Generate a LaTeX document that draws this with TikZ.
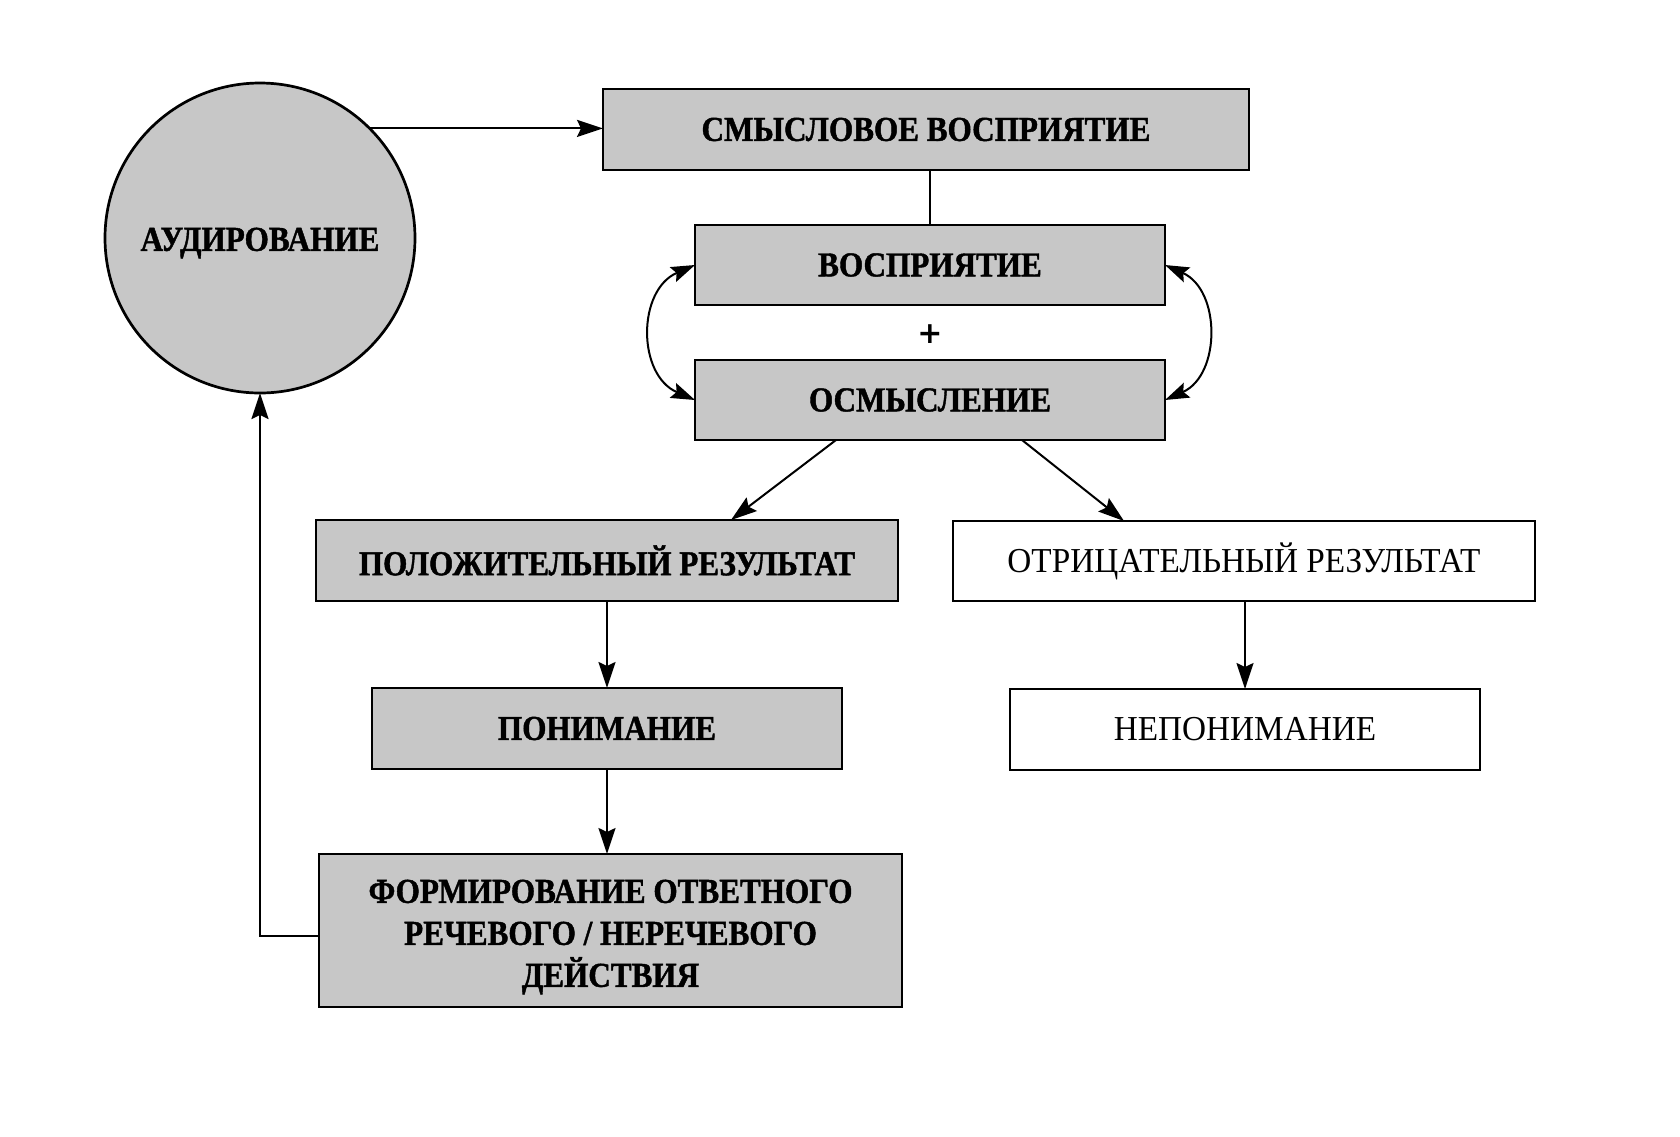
\documentclass[tikz,border=0pt]{standalone}
\usepackage{fontspec}
\setmainfont{Liberation Serif}
\newfontfamily\boldcond[FakeStretch=0.89,FakeBold=1.2]{Liberation Serif Bold}
\newfontfamily\regcond[FakeStretch=0.95]{Liberation Serif}
\newfontfamily\plusfont{DejaVu Sans Bold}
\usetikzlibrary{arrows.meta}
\definecolor{stipple}{gray}{0.78}
\tikzset{
  boxg/.style={draw, line width=2.7pt, fill=stipple, inner sep=0pt, outer sep=0pt,
    font=\boldcond\fontsize{35}{42}\selectfont, align=center},
  boxw/.style={draw, line width=2.7pt, fill=white, inner sep=0pt, outer sep=0pt,
    font=\regcond\fontsize{35}{42}\selectfont, align=center},
  conn/.style={line width=2pt},
  arr/.style={line width=2pt, -{Stealth[length=26pt,width=17pt,inset=4pt]}},
  arrb/.style={line width=2pt, {Stealth[length=24pt,width=16pt,inset=4pt]}-{Stealth[length=24pt,width=16pt,inset=4pt]}}
}
\begin{document}
\begin{tikzpicture}[x=1pt,y=-1pt]
\useasboundingbox[fill=white] (0,0) rectangle (1680,1136);
\node[boxg, circle, minimum size=310pt] (aud) at (260,238) {};
\node[font=\boldcond\fontsize{35}{42}\selectfont] (audtxt) at (260,243) {АУДИРОВАНИЕ};
\node[boxg, minimum width=646pt, minimum height=81pt] (smysl) at (926,129.5) {СМЫСЛОВОЕ ВОСПРИЯТИЕ};
\node[boxg, minimum width=470pt, minimum height=80pt] (vospr) at (930,265) {ВОСПРИЯТИЕ};
\node[font=\plusfont\fontsize{30}{36}\selectfont] (plus) at (930,334) {+};
\node[boxg, minimum width=470pt, minimum height=80pt] (osm) at (930,400) {ОСМЫСЛЕНИЕ};
\node[boxg, minimum width=582pt, minimum height=81pt] (polozh) at (607,560.5) {ПОЛОЖИТЕЛЬНЫЙ РЕЗУЛЬТАТ};
\node[boxw, minimum width=582pt, minimum height=80pt] (otric) at (1244,561) {ОТРИЦАТЕЛЬНЫЙ РЕЗУЛЬТАТ};
\node[boxg, minimum width=470pt, minimum height=81pt] (ponim) at (607,728.5) {ПОНИМАНИЕ};
\node[boxw, minimum width=470pt, minimum height=81pt] (neponim) at (1245,729.5) {НЕПОНИМАНИЕ};
\node[boxg, minimum width=583pt, minimum height=153pt] (form) at (610.5,930.5) {};
\node[font=\boldcond\fontsize{35}{42}\selectfont, align=center] (formtxt) at (610.5,937) {ФОРМИРОВАНИЕ ОТВЕТНОГО\\РЕЧЕВОГО / НЕРЕЧЕВОГО\\ДЕЙСТВИЯ};

\draw[arr] (aud.45) -- (aud.45 -| smysl.west);
\draw[conn] (smysl.south -| vospr.north) -- (vospr.north);
\draw[arrb] (vospr.west) .. controls (637,290) and (637,375) .. (osm.west);
\draw[arrb] (vospr.east) .. controls (1221,290) and (1221,375) .. (osm.east);
\draw[arr] ([xshift=-94pt]osm.south) -- ([xshift=124pt]polozh.north);
\draw[arr] ([xshift=92pt]osm.south) -- ([xshift=-120pt]otric.north);
\draw[arr] (polozh.south) -- (ponim.north);
\draw[arr] (ponim.south) -- (ponim.south |- form.north);
\draw[arr] (neponim.north |- otric.south) -- (neponim.north);
\draw[arr] ([yshift=-5pt]form.west) -| (aud.south);
\end{tikzpicture}
\end{document}
